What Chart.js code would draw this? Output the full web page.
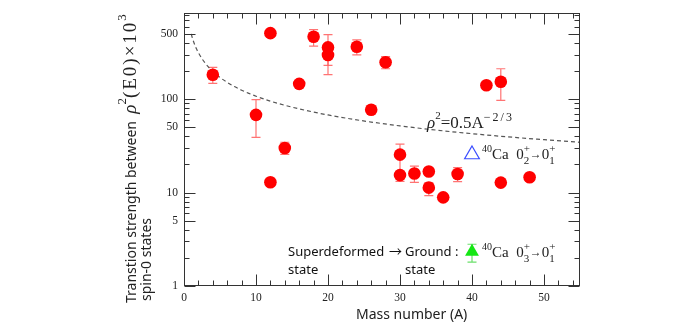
<!DOCTYPE html>
<html>
<head>
<meta charset="utf-8">
<script src="https://cdn.jsdelivr.net/npm/chart.js@4.4.0/dist/chart.umd.min.js"></script>
<style>
  html, body { margin: 0; padding: 0; background: #fff; }
  #wrap { width: 700px; height: 332px; }
</style>
</head>
<body>
<div id="wrap"><canvas id="chart" width="700" height="332"></canvas></div>
<script>
// E0 transition strengths between spin-0 states, rho^2(E0) x 10^3
const massNumber = [4, 10, 12, 12, 14, 16, 18, 20, 20, 24, 26, 28, 30, 30, 32, 34, 34, 36, 38, 42, 44, 44, 48];
const strength   = [183, 68, 510, 12.9, 30, 146, 466, 359, 298, 365, 77, 249, 25.5, 15.4, 16.0, 16.8, 11.3, 8.9, 15.8, 141, 154, 12.8, 14.6];
const errLow     = [148, 39, null, null, 25.7, null, 370, 230, 183, 298, null, 212, 15.4, 13.2, 12.9, null, 9.3, null, 13.1, null, 97, null, null];
const errHigh    = [219, 99, null, null, 34.6, null, 556, 492, 360, 433, null, 286, 33, 17, 19.2, null, 12.8, null, 18.5, null, 212, null, null];

// 40Ca: 0+2 -> 0+1 (open) and superdeformed 0+3 -> 0+1 (filled)
const ca40Second = { x: 40, y: 25.6 };
const ca40Third  = { x: 40, y: 2.33, lo: 1.8, hi: 2.8 };

// systematics rho^2 = 0.5 A^(-2/3)
const curveCoef = 0.5;
const curveExp = -2 / 3;
const curveMass = [1, 1.25, 1.5, 1.75, 2, 2.5, 3, 3.5, 4, 5, 6, 7, 8, 9, 10, 12, 14, 16, 18, 20, 23, 26, 30, 34, 38, 42, 46, 50, 55];

const xTicks = [0, 10, 20, 30, 40, 50];
const yTicks = [1, 5, 10, 50, 100, 500];

const points = massNumber.map((a, i) => ({ x: a, y: strength[i] }));
const curve = curveMass.map(a => ({ x: a, y: 1000 * curveCoef * Math.pow(a, curveExp) }));

const SERIF = '"Liberation Serif", "DejaVu Serif", serif';
const SANS = '"Noto Sans", "Open Sans", sans-serif';

// draws a row of text pieces; a piece with sup/sub stacks both at the same x
function drawRuns(ctx, x, y, parts) {
  let cx = x;
  for (const p of parts) {
    ctx.font = p.f;
    if (p.ls) ctx.letterSpacing = p.ls;
    if (p.sup !== undefined) {
      ctx.fillText(p.sup, cx, y + p.dSup);
      const w1 = ctx.measureText(p.sup).width;
      ctx.fillText(p.sub, cx, y + p.dSub);
      const w2 = ctx.measureText(p.sub).width;
      cx += Math.max(w1, w2);
    } else {
      ctx.fillText(p.t, cx, y + (p.dy || 0));
      cx += ctx.measureText(p.t).width;
    }
    ctx.letterSpacing = '0px';
  }
  return cx;
}

function caLabel(ctx, x, y, lower) {
  drawRuns(ctx, x, y, [
    { t: '40', f: '10px ' + SERIF, dy: -7 },
    { t: 'Ca  ', f: '15px ' + SERIF },
    { t: '0', f: '15px ' + SERIF },
    { sup: '+', sub: lower, f: '11px ' + SERIF, dSup: -7, dSub: 5 },
    { t: '\u2192', f: '12px ' + SERIF, dy: -1 },
    { t: '0', f: '15px ' + SERIF },
    { sup: '+', sub: '1', f: '11px ' + SERIF, dSup: -7, dSub: 5 }
  ]);
}

const decor = {
  id: 'decor',
  beforeDatasetsDraw(chart) {
    const ctx = chart.ctx, xs = chart.scales.x, ys = chart.scales.y;
    ctx.save();
    ctx.lineWidth = 1.2;
    const bar = (a, lo, hi, color) => {
      const px = xs.getPixelForValue(a);
      const y1 = ys.getPixelForValue(lo), y2 = ys.getPixelForValue(hi);
      ctx.strokeStyle = color;
      ctx.beginPath();
      ctx.moveTo(px, y1); ctx.lineTo(px, y2);
      ctx.moveTo(px - 4.5, y1); ctx.lineTo(px + 4.5, y1);
      ctx.moveTo(px - 4.5, y2); ctx.lineTo(px + 4.5, y2);
      ctx.stroke();
    };
    massNumber.forEach((a, i) => {
      if (errLow[i] !== null) bar(a, errLow[i], errHigh[i], 'rgba(255,90,90,0.85)');
    });
    bar(ca40Third.x, ca40Third.lo, ca40Third.hi, 'rgba(90,220,90,0.9)');
    ctx.restore();
  },
  afterDatasetsDraw(chart) {
    const ctx = chart.ctx, xs = chart.scales.x, ys = chart.scales.y, a = chart.chartArea;
    ctx.save();
    ctx.strokeStyle = '#333';
    ctx.lineWidth = 1;
    const L = Math.round(a.left) + 0.5, R = Math.round(a.right) - 0.5;
    const T = Math.round(a.top) + 0.5, B = Math.round(a.bottom) - 0.5;
    ctx.strokeRect(L, T, R - L, B - T);
    ctx.beginPath();
    for (let v = 0; v <= 55; v += 2) {
      const px = Math.round(xs.getPixelForValue(v)) + 0.5;
      const len = v % 10 === 0 ? 11 : 5;
      ctx.moveTo(px, B); ctx.lineTo(px, B - len);
      ctx.moveTo(px, T); ctx.lineTo(px, T + len);
    }
    for (const d of [1, 10, 100]) {
      for (let m = 1; m <= 9; m++) {
        const v = m * d;
        if (v > ys.max) continue;
        const py = Math.round(ys.getPixelForValue(v)) + 0.5;
        const len = (m === 1 || m === 5) ? 11 : 5;
        ctx.moveTo(L, py); ctx.lineTo(L + len, py);
        ctx.moveTo(R, py); ctx.lineTo(R - len, py);
      }
    }
    ctx.stroke();
    ctx.restore();
  },
  afterDraw(chart) {
    const ctx = chart.ctx, xs = chart.scales.x, ys = chart.scales.y;
    ctx.save();
    ctx.fillStyle = '#222';
    ctx.textBaseline = 'alphabetic';
    ctx.textAlign = 'left';

    // axis titles
    ctx.font = '14px ' + SANS;
    ctx.fillText('Mass number (A)', 356, 319);

    ctx.save();
    ctx.translate(136, 303);
    ctx.rotate(-Math.PI / 2);
    drawRuns(ctx, 0, 0, [
      { t: 'Transtion strength between  ', f: '14px ' + SANS },
      { t: '\u03c1', f: 'italic 19px ' + SERIF },
      { t: '2', f: '13px ' + SERIF, dy: -10 },
      { t: '(E0)\u00d710', f: '19px ' + SERIF, ls: '2px' },
      { t: '3', f: '13px ' + SERIF, dy: -10 }
    ]);
    ctx.restore();
    ctx.save();
    ctx.translate(151, 301);
    ctx.rotate(-Math.PI / 2);
    ctx.font = '14px ' + SANS;
    ctx.fillText('spin-0 states', 0, 0);
    ctx.restore();

    // systematics label
    drawRuns(ctx, 427, 128, [
      { t: '\u03c1', f: 'italic 17px ' + SERIF },
      { t: '2', f: '11px ' + SERIF, dy: -9 },
      { t: '=0.5A', f: '17px ' + SERIF },
      { t: '\u22122/3', f: '12px ' + SERIF, dy: -7, ls: '2px' }
    ]);

    // 40Ca labels next to the triangles
    const bx = xs.getPixelForValue(ca40Second.x), by = ys.getPixelForValue(ca40Second.y);
    caLabel(ctx, bx + 10, by + 4.5, '2');
    const gx = xs.getPixelForValue(ca40Third.x), gy = ys.getPixelForValue(ca40Third.y);
    caLabel(ctx, gx + 10, gy + 5, '3');

    // superdeformed -> ground state caption
    ctx.fillStyle = '#111';
    ctx.font = '13px ' + SANS;
    ctx.fillText('Superdeformed', 288, 256);
    ctx.fillText('Ground :', 405, 256);
    ctx.fillText('state', 288, 274);
    ctx.fillText('state', 405, 274);
    ctx.font = '13px "Noto Sans CJK JP", ' + SANS;
    ctx.fillText('\u2192', 389, 256);
    ctx.restore();
  }
};

new Chart(document.getElementById('chart'), {
  type: 'scatter',
  data: {
    datasets: [
      {
        data: curve,
        showLine: true,
        borderColor: '#555',
        borderWidth: 1.2,
        borderDash: [4, 3],
        pointRadius: 0,
        cubicInterpolationMode: 'monotone',
        order: 3
      },
      {
        data: points,
        pointStyle: 'circle',
        pointRadius: 6.3,
        backgroundColor: 'rgb(255,0,0)',
        borderWidth: 0,
        order: 1
      },
      {
        data: [ca40Second],
        pointStyle: 'triangle',
        pointRadius: 8.5,
        backgroundColor: 'rgba(0,0,0,0)',
        borderColor: '#3a4dff',
        borderWidth: 1.2,
        order: 1
      },
      {
        data: [ca40Third],
        pointStyle: 'triangle',
        pointRadius: 8,
        backgroundColor: 'rgb(20,230,20)',
        borderWidth: 0,
        order: 1
      }
    ]
  },
  options: {
    responsive: false,
    animation: false,
    events: [],
    layout: { padding: { top: 9, right: 120, left: 0, bottom: 0 } },
    plugins: { legend: { display: false }, tooltip: { enabled: false } },
    scales: {
      x: {
        type: 'linear',
        min: 0,
        max: 55,
        afterBuildTicks: s => { s.ticks = xTicks.map(v => ({ value: v })); },
        afterFit: s => { s.height = 46; },
        grid: { display: false, drawTicks: false },
        border: { display: false },
        ticks: { padding: 5, color: '#222', font: { family: SERIF, size: 11.5 }, callback: v => String(v), maxRotation: 0 }
      },
      y: {
        type: 'logarithmic',
        min: 1,
        max: 840,
        afterBuildTicks: s => { s.ticks = yTicks.map(v => ({ value: v })); },
        afterFit: s => { s.width = 184; },
        grid: { display: false, drawTicks: false },
        border: { display: false },
        ticks: { padding: 6, color: '#222', font: { family: SERIF, size: 11.5 }, callback: v => String(v) }
      }
    }
  },
  plugins: [decor]
});
</script>
</body>
</html>
